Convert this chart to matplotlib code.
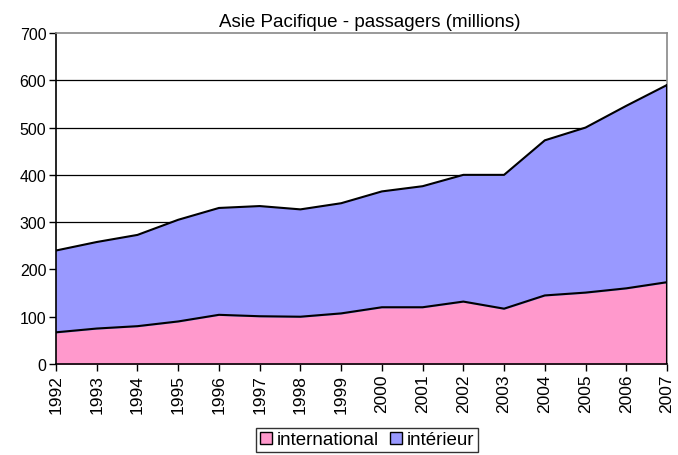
import matplotlib
matplotlib.use("Agg")
import matplotlib.pyplot as plt
import numpy as np

plt.rcParams['font.family'] = ['Liberation Sans', 'DejaVu Sans']

years = list(range(1992, 2008))
international = [67, 75, 80, 90, 104, 101, 100, 107, 120, 120, 132, 117, 145, 151, 160, 173]
interieur = [173, 183, 193, 215, 226, 233, 227, 233, 245, 256, 268, 283, 328, 349, 386, 417]
yticks = [0, 100, 200, 300, 400, 500, 600, 700]

fig = plt.figure(figsize=(6.78, 4.56), dpi=100)
ax = fig.add_axes([56 / 678, 1 - 365 / 456, (667 - 56) / 678, (365 - 34) / 456])

x = np.array(years)
inter = np.array(international)
total = inter + np.array(interieur)

for y in yticks[1:-1]:
    ax.axhline(y, color='black', linewidth=0.9, zorder=1)

ax.fill_between(x, 0, inter, color='#FF99CC', zorder=2, label='international')
ax.fill_between(x, inter, total, color='#9999FF', zorder=2, label='intérieur')
ax.plot(x, inter, color='black', linewidth=1.5, zorder=3)
ax.plot(x, total, color='black', linewidth=1.5, zorder=3)
ax.plot([x[-1], x[-1]], [0, total[-1]], color='black', linewidth=1.5, zorder=3)

ax.set_xlim(1992, 2007)
ax.set_ylim(0, 700)
ax.set_xticks(years)
ax.set_xticklabels([str(y) for y in years], rotation=90, fontsize=12.5)
ax.set_yticks(yticks)
ax.set_yticklabels([str(y) for y in yticks], fontsize=11.5)
ax.tick_params(direction='out', length=5, color='black', width=1, pad=2)

ax.spines['left'].set_color('black')
ax.spines['bottom'].set_color('black')
ax.spines['top'].set_color('#888888')
ax.spines['right'].set_color('#888888')
for s in ax.spines.values():
    s.set_linewidth(1.2)

ax.set_title('Asie Pacifique - passagers (millions)', fontsize=13.5, pad=5,
             x=(370 - 56) / (667 - 56))

h1 = plt.Rectangle((0, 0), 1, 1, facecolor='#FF99CC', edgecolor='black', linewidth=1)
h2 = plt.Rectangle((0, 0), 1, 1, facecolor='#9999FF', edgecolor='black', linewidth=1)
leg = fig.legend([h1, h2], ['international', 'intérieur'], loc='center',
                 bbox_to_anchor=(367 / 678, 1 - 441 / 456), ncol=2, fontsize=13.5,
                 frameon=True, fancybox=False, edgecolor='black',
                 handlelength=0.65, handleheight=0.65, handletextpad=0.25,
                 columnspacing=0.6, borderpad=0.2, borderaxespad=0)
leg.get_frame().set_linewidth(1)

fig.savefig('out.png', dpi=100)
